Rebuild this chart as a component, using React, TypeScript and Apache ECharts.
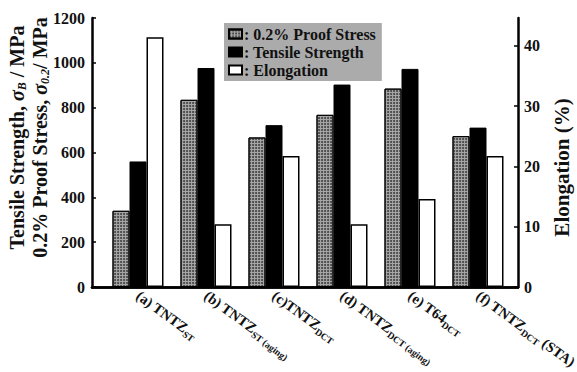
import React, { useEffect, useRef } from "react";
import * as echarts from "echarts";

const categories = [
  "(a) TNTZ{s|ST}",
  "(b) TNTZ{s|ST (aging)}",
  "(c)TNTZ{s|DCT}",
  "(d) TNTZ{s|DCT (aging)}",
  "(e) T64{s|DCT}",
  "(f) TNTZ{s|DCT} (STA)",
];
const proofStress = [340, 835, 667, 768, 885, 673];
const tensileStrength = [560, 977, 722, 903, 973, 711];
const elongation = [41.4, 10.4, 21.7, 10.4, 14.6, 21.7];
const seriesNames = ["0.2% Proof Stress", "Tensile Strength", "Elongation"];

const FONT = "'Liberation Serif', 'Times New Roman', serif";

export default function App() {
  const ref = useRef<HTMLDivElement>(null);
  useEffect(() => {
    if (!ref.current) return;
    const chart = echarts.init(ref.current, undefined, { renderer: "svg" });
    const axisLine = { show: true, lineStyle: { color: "#000", width: 2.5 } };
    const baseText = { fontFamily: FONT, fontWeight: "bold" as const, color: "#111" };
    chart.setOption({
      animation: false,
      backgroundColor: "#fff",
      textStyle: { fontFamily: FONT },
      grid: [
        { left: 92, right: 59, top: 18, bottom: 85, outerBoundsMode: "none", containLabel: false },
        { left: 104, right: 65, top: 18, bottom: 85, outerBoundsMode: "none", containLabel: false },
      ],
      legend: {
        orient: "vertical",
        left: 224,
        top: 23,
        backgroundColor: "#ababab",
        borderRadius: 0,
        padding: [3, 6, 3, 4],
        itemGap: 2,
        itemWidth: 13,
        itemHeight: 9,
        icon: "rect",
        data: seriesNames,
        formatter: ": {name}",
        textStyle: { ...baseText, fontSize: 16, padding: [0, 0, 0, -3] },
      },
      xAxis: [
        {
          gridIndex: 0,
          type: "category",
          data: [""],
          axisLine,
          axisTick: { show: false },
          axisLabel: { show: false },
        },
        {
          gridIndex: 0,
          type: "category",
          position: "top",
          data: [""],
          axisLine,
          axisTick: { show: false },
          axisLabel: { show: false },
        },
        {
          gridIndex: 1,
          type: "category",
          data: categories,
          axisLine: { show: false },
          axisTick: { show: false },
          axisLabel: {
            ...baseText,
            fontSize: 14.5,
            rotate: -36,
            margin: 7,
            interval: 0,
            rich: {
              s: { ...baseText, fontSize: 9.5, verticalAlign: "bottom", lineHeight: 20 },
            },
          },
        },
      ],
      yAxis: [
        {
          gridIndex: 0,
          type: "value",
          position: "left",
          min: 0,
          max: 1200,
          interval: 200,
          axisLine,
          axisTick: { show: true, inside: true, length: 4, lineStyle: { color: "#000", width: 1.5 } },
          splitLine: { show: false },
          axisLabel: { ...baseText, fontSize: 16, margin: 7, formatter: (v: number) => String(v) },
          name:
            "{a|Tensile Strength, }{i|σ}{s|B}{a| / MPa}\n{a|0.2% Proof Stress, }{i|σ}{s|0.2}{a|/ MPa}",
          nameLocation: "middle",
          nameMoveOverlap: false,
          nameGap: 41,
          nameTextStyle: {
            padding: [0, 0, 0, 30],
            rich: {
              a: { ...baseText, fontSize: 20, lineHeight: 19, verticalAlign: "middle" },
              i: { ...baseText, fontSize: 20, lineHeight: 19, fontStyle: "italic", verticalAlign: "middle" },
              s: { ...baseText, fontSize: 12, lineHeight: 23, fontStyle: "italic", verticalAlign: "bottom" },
            },
          },
        },
        {
          gridIndex: 0,
          type: "value",
          position: "right",
          min: 0,
          max: 44.6,
          interval: 10,
          axisLine,
          axisTick: { show: true, inside: true, length: 4, lineStyle: { color: "#000", width: 1.5 } },
          splitLine: { show: false },
          axisLabel: { ...baseText, fontSize: 16, margin: 6, showMaxLabel: false },
          name: "Elongation (%)",
          nameLocation: "middle",
          nameMoveOverlap: false,
          nameGap: 33,
          nameTextStyle: { ...baseText, fontSize: 21, padding: [0, 30, 0, 0] },
        },
        { gridIndex: 1, type: "value", min: 0, max: 1200, show: false },
        { gridIndex: 1, type: "value", min: 0, max: 44.6, show: false },
      ],
      series: [
        {
          name: seriesNames[0],
          type: "bar",
          xAxisIndex: 2,
          yAxisIndex: 2,
          barWidth: 17,
          barGap: "0%",
          data: proofStress,
          itemStyle: {
            color: "#a8a8a8",
            borderColor: "#000",
            borderWidth: 1,
            decal: {
              symbol: "circle",
              symbolSize: 1,
              dashArrayX: [2, 1],
              dashArrayY: [2, 1],
              color: "#444",
            },
          },
        },
        {
          name: seriesNames[1],
          type: "bar",
          xAxisIndex: 2,
          yAxisIndex: 2,
          barWidth: 17,
          barGap: "0%",
          data: tensileStrength,
          itemStyle: { color: "#000", borderColor: "#000", borderWidth: 1 },
        },
        {
          name: seriesNames[2],
          type: "bar",
          xAxisIndex: 2,
          yAxisIndex: 3,
          barWidth: 17,
          barGap: "0%",
          data: elongation,
          itemStyle: { color: "#fff", borderColor: "#000", borderWidth: 1.5 },
        },
      ],
    });
    return () => chart.dispose();
  }, []);
  return (
    <div
      ref={ref}
      style={{ position: "fixed", left: 0, top: 0, width: 577, height: 372, background: "#fff" }}
    />
  );
}
